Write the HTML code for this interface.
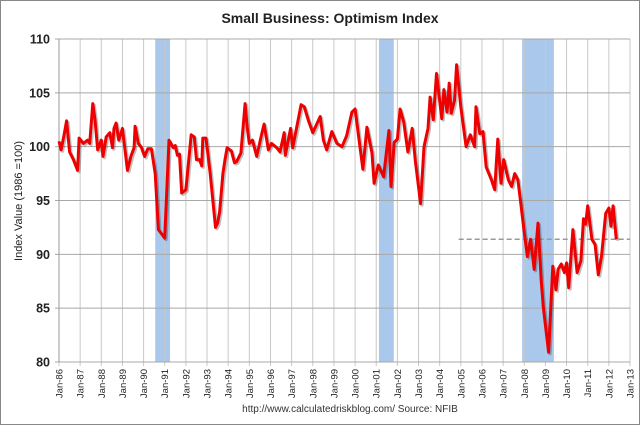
<!DOCTYPE html>
<html><head><meta charset="utf-8"><style>
html,body{margin:0;padding:0;background:#fff;}
svg{display:block;font-family:"Liberation Sans",Arial,sans-serif;}
</style></head><body>
<svg id="chart" width="640" height="425" viewBox="0 0 640 425">
<rect x="0.5" y="0.5" width="639" height="424" fill="#fff" stroke="#888"/>
<text x="330" y="23" text-anchor="middle" font-size="14" font-weight="bold" fill="#222">Small Business: Optimism Index</text>
<text transform="translate(22,201) rotate(-90)" text-anchor="middle" font-size="11" fill="#222">Index Value (1986 =100)</text>
<text x="350" y="412" text-anchor="middle" font-size="10" fill="#333">http://www.calculatedriskblog.com/   Source: NFIB</text>
<g id="plot"></g>
</svg>
<script>
const yTicks = [80, 85, 90, 95, 100, 105, 110];
const xTickYears = [1986,1987,1988,1989,1990,1991,1992,1993,1994,1995,1996,1997,1998,1999,2000,2001,2002,2003,2004,2005,2006,2007,2008,2009,2010,2011,2012,2013];
const xTickLabels = ["Jan-86","Jan-87","Jan-88","Jan-89","Jan-90","Jan-91","Jan-92","Jan-93","Jan-94","Jan-95","Jan-96","Jan-97","Jan-98","Jan-99","Jan-00","Jan-01","Jan-02","Jan-03","Jan-04","Jan-05","Jan-06","Jan-07","Jan-08","Jan-09","Jan-10","Jan-11","Jan-12","Jan-13"];
const recessionStarts = [1990.55, 2001.13, 2007.9];
const recessionEnds = [1991.25, 2001.83, 2009.4];
const refLineStart = 2004.9;
const refLineValue = 91.4;
const dates = [1986.0,1986.1,1986.24,1986.36,1986.5,1986.68,1986.88,1986.95,1987.15,1987.35,1987.45,1987.6,1987.7,1987.83,1988.0,1988.08,1988.23,1988.4,1988.53,1988.6,1988.7,1988.83,1989.0,1989.24,1989.4,1989.55,1989.6,1989.75,1989.9,1990.05,1990.2,1990.37,1990.55,1990.7,1990.85,1991.0,1991.2,1991.4,1991.5,1991.6,1991.7,1991.8,1992.0,1992.15,1992.25,1992.4,1992.5,1992.65,1992.75,1992.8,1992.95,1993.15,1993.4,1993.5,1993.6,1993.75,1993.85,1993.95,1994.15,1994.3,1994.4,1994.6,1994.8,1994.9,1995.0,1995.15,1995.35,1995.6,1995.7,1995.9,1996.05,1996.3,1996.45,1996.65,1996.7,1996.95,1997.05,1997.15,1997.45,1997.6,1997.8,1998.0,1998.35,1998.5,1998.66,1998.9,1999.14,1999.38,1999.6,1999.85,2000.0,2000.17,2000.37,2000.56,2000.8,2000.9,2001.1,2001.35,2001.6,2001.7,2001.85,2002.0,2002.13,2002.3,2002.5,2002.7,2002.85,2003.1,2003.26,2003.45,2003.55,2003.7,2003.85,2004.1,2004.2,2004.35,2004.45,2004.55,2004.7,2004.8,2005.0,2005.25,2005.45,2005.65,2005.72,2005.9,2006.05,2006.2,2006.45,2006.6,2006.75,2006.9,2007.03,2007.25,2007.4,2007.55,2007.7,2007.85,2008.0,2008.15,2008.3,2008.47,2008.65,2008.8,2008.9,2009.15,2009.35,2009.5,2009.6,2009.75,2009.9,2010.0,2010.1,2010.3,2010.5,2010.68,2010.8,2010.9,2011.0,2011.2,2011.35,2011.5,2011.65,2011.85,2012.0,2012.1,2012.2,2012.35];
const values = [100.5,99.7,101.1,102.4,99.5,98.8,97.8,100.8,100.3,100.6,100.3,104.0,102.5,99.7,100.6,99.1,100.9,101.3,99.9,101.7,102.2,100.6,101.7,97.8,99.1,99.9,101.9,100.3,99.9,99.1,99.8,99.8,97.5,92.3,91.9,91.5,100.6,99.9,100.1,99.2,99.3,95.7,96.0,99.1,101.1,100.9,98.8,98.8,98.2,100.8,100.8,97.5,92.5,92.9,94.0,97.5,98.8,99.9,99.6,98.5,98.6,99.4,104.0,101.8,100.3,100.6,99.1,101.3,102.1,99.7,100.3,99.9,99.5,101.3,99.2,101.7,99.9,100.9,103.9,103.7,102.4,101.3,102.8,100.6,99.7,101.4,100.3,100.0,101.0,103.2,103.5,100.9,97.9,101.8,99.4,96.6,98.3,97.2,101.5,96.3,100.4,100.7,103.5,102.3,99.5,101.7,98.7,94.7,100.0,101.7,104.6,102.5,106.8,102.6,105.3,103.2,105.9,103.1,104.3,107.6,103.7,100.0,101.1,100.0,103.7,101.2,101.4,98.1,96.9,96.0,100.7,96.6,98.8,96.9,96.3,97.5,96.9,94.5,92.0,89.8,91.4,88.6,92.9,87.6,85.1,80.9,88.9,86.7,88.6,89.1,88.3,89.2,86.9,92.3,88.3,89.4,93.3,92.8,94.5,91.4,90.9,88.1,89.8,93.8,94.3,92.6,94.5,91.4];

const NS = "http://www.w3.org/2000/svg";
const L = 59, R = 630, T = 39, B = 362;
const x = yr => L + (yr - 1986) / 27 * (R - L);
const y = v => B - (v - 80) / 30 * (B - T);
const plot = document.getElementById('plot');
function mk(tag, attrs, parent) {
  const e = document.createElementNS(NS, tag);
  for (const k in attrs) e.setAttribute(k, attrs[k]);
  (parent || plot).appendChild(e);
  return e;
}
// recession bands
recessionStarts.forEach((s, i) => {
  const r = mk('rect', {x: x(s), y: T, width: x(recessionEnds[i]) - x(s), height: B - T, fill: '#a9c8ec'});
  
  
});
// vertical grid + x labels
xTickYears.forEach((yr, i) => {
  const g = mk('line', {x1: x(yr), x2: x(yr), y1: T, y2: B + 4, stroke: '#c8c8c8', 'stroke-width': 1});
  
  
  const t = mk('text', {transform: `translate(${x(yr) + 3.5},${B + 7}) rotate(-90)`, 'text-anchor': 'end', 'font-size': 9.5, fill: '#222'});
  t.textContent = xTickLabels[i];
  
  
});
// horizontal grid + y labels
yTicks.forEach(v => {
  const g = mk('line', {x1: L - 4, x2: R, y1: y(v), y2: y(v), stroke: '#a8a8a8', 'stroke-width': 1});
  
  
  const t = mk('text', {x: L - 9, y: y(v) + 4.5, 'text-anchor': 'end', 'font-size': 12.5, 'font-weight': 'bold', fill: '#222'});
  t.textContent = v;
  
  
});
const ax = mk('line', {x1: L, x2: L, y1: T, y2: B, stroke: '#999', 'stroke-width': 1});


// reference dashed line
const ref = mk('line', {x1: x(refLineStart), x2: R, y1: y(refLineValue), y2: y(refLineValue), stroke: '#999', 'stroke-width': 1.5, 'stroke-dasharray': '5,3'});


// series
const pts = dates.map((d, i) => `${x(d).toFixed(1)},${y(values[i]).toFixed(1)}`).join(' ');
const shadow = mk('polyline', {points: pts, fill: 'none', stroke: 'rgba(0,0,0,0.25)', 'stroke-width': 3, 'stroke-linejoin': 'round', transform: 'translate(1.5,1.5)'});


const line = mk('polyline', {points: pts, fill: 'none', stroke: '#ee0000', 'stroke-width': 3, 'stroke-linejoin': 'round'});


</script>
</body></html>
